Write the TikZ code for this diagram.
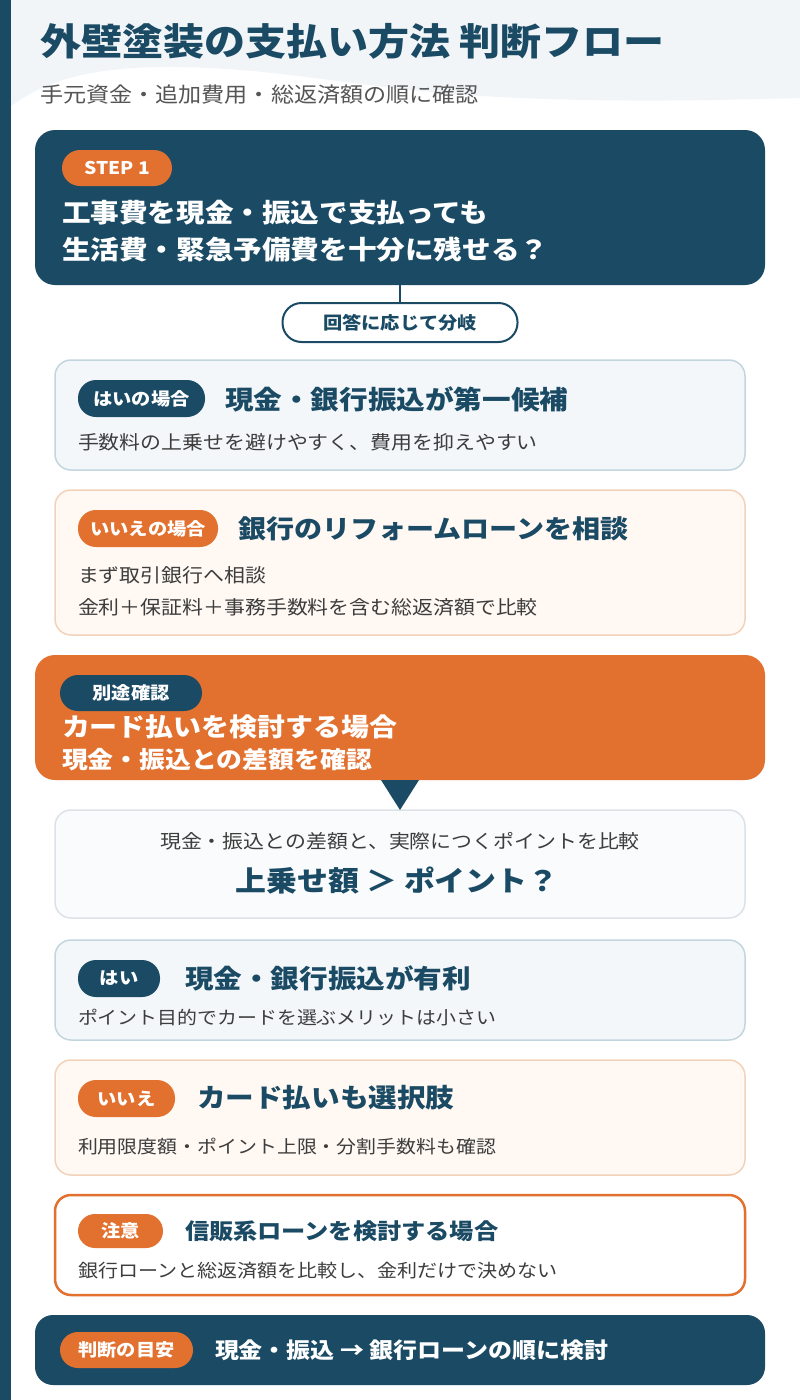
\documentclass[tikz,border=0pt]{standalone}
\usepackage{fontspec}
\setmainfont[FakeStretch=1.1]{Noto Sans CJK JP}
\newcommand\myfs[1]{\fontsize{#1}{#1}\selectfont}
\definecolor{navy}{HTML}{1A4A64}
\definecolor{orng}{HTML}{E2712F}
\definecolor{lbfill}{HTML}{F3F7FA}
\definecolor{lbline}{HTML}{C3D6E0}
\definecolor{lofill}{HTML}{FFF8F3}
\definecolor{loline}{HTML}{F3D2BC}
\definecolor{qfill}{HTML}{FAFBFC}
\definecolor{qline}{HTML}{DCE2E7}
\definecolor{bodygray}{HTML}{3D3D3D}
\definecolor{subgray}{HTML}{555555}
\definecolor{bgtop}{HTML}{F1F5F8}
\begin{document}
\begin{tikzpicture}[x=1pt,y=-1pt,
  every node/.style={inner sep=0pt, outer sep=0pt},
  bigbox/.style={rounded corners=20pt, minimum width=730pt},
  card/.style={rounded corners=16pt, minimum width=690pt, line width=1.5pt},
  cardblue/.style={card, fill=lbfill, draw=lbline},
  cardorange/.style={card, fill=lofill, draw=loline},
  pill/.style={rounded corners=18pt, minimum height=37pt, text=white, font=\myfs{17.5}\bfseries},
  heading/.style={anchor=west, text=navy, font=\myfs{26}\bfseries},
  body/.style={anchor=west, text=bodygray, font=\myfs{19}},
]
\useasboundingbox (0,0) rectangle (800,1400);
\fill[white] (0,0) rectangle (800,1400);
\fill[bgtop] (0,0) -- (800,0) -- (800,98) .. controls (720,100) and (620,103) .. (500,97) .. controls (360,90) and (280,66) .. (160,67) .. controls (90,68) and (40,80) .. (0,115) -- cycle;
\fill[navy] (0,0) rectangle (11,1400);

% title
\node[anchor=west, text=navy, font=\myfs{37.3}\bfseries] (title) at (40,41) {外壁塗装の支払い方法 判断フロー};
\node[anchor=west, text=subgray, font=\myfs{21}] (subtitle) at (40,95) {手元資金・追加費用・総返済額の順に確認};

% step 1
\node[bigbox, fill=navy, minimum height=155pt] (step1) at (400,207.5) {};
\node[pill, fill=orng, minimum width=110pt, minimum height=36pt] (steptag) at (117,168) {STEP 1};
\node[anchor=west, text=white, font=\myfs{26}\bfseries] (s1a) at (62,213) {工事費を現金・振込で支払っても};
\node[anchor=west, text=white, font=\myfs{26}\bfseries] (s1b) at (62,250) {生活費・緊急予備費を十分に残せる？};

\node[rounded corners=19pt, minimum width=235pt, minimum height=39pt, fill=white, draw=navy, line width=2pt, text=navy, font=\myfs{17.5}\bfseries] (branch) at (400,322.5) {回答に応じて分岐};
\draw[navy, line width=2pt] (step1.south) -- (branch.north);

% yes case
\node[cardblue, minimum height=110pt] (yes1) at (400,415) {};
\node[pill, fill=navy, minimum width=127pt] (yes1tag) at (141.5,398.5) {はいの場合};
\node[heading] (yes1h) at (225,399) {現金・銀行振込が第一候補};
\node[body] (yes1b) at (78,442) {手数料の上乗せを避けやすく、費用を抑えやすい};

% no case
\node[cardorange, minimum height=145pt] (no1) at (400,562.5) {};
\node[pill, fill=orng, minimum width=140pt] (no1tag) at (148,528.5) {いいえの場合};
\node[heading, font=\myfs{25.5}\bfseries] (no1h) at (238,529) {銀行のリフォームローンを相談};
\node[body] (no1b) at (78,575) {まず取引銀行へ相談};
\node[body] (no1c) at (78,607) {金利＋保証料＋事務手数料を含む総返済額で比較};

% card check
\node[bigbox, fill=orng, minimum height=125pt] (card) at (400,717.5) {};
\node[pill, fill=navy, minimum width=142pt, minimum height=36pt] (cardtag) at (131,693) {別途確認};
\node[anchor=west, text=white, font=\myfs{25.4}\bfseries] (carda) at (62,727) {カード払いを検討する場合};
\node[anchor=west, text=white, font=\myfs{23.5}\bfseries] (cardb) at (62,760) {現金・振込との差額を確認};

% question
\node[card, fill=qfill, draw=qline, minimum height=108pt] (q) at (400,864) {};
\fill[navy] (card.south) ++(-19,0) -- ++(38,0) -- (q.north) -- cycle;
\node[text=bodygray, font=\myfs{19}] (qa) at (400,841) {現金・振込との差額と、実際につくポイントを比較};
\node[text=navy, font=\myfs{28.1}\bfseries] (qb) at (397,881) {上乗せ額 ＞ ポイント？};

% yes 2
\node[cardblue, minimum height=100pt] (yes2) at (400,990) {};
\node[pill, fill=navy, minimum width=82pt] (yes2tag) at (119,978.5) {はい};
\node[heading] (yes2h) at (185,978) {現金・銀行振込が有利};
\node[body, font=\myfs{18.1}] (yes2b) at (78,1018) {ポイント目的でカードを選ぶメリットは小さい};

% no 2
\node[cardorange, minimum height=115pt] (no2) at (400,1117.5) {};
\node[pill, fill=orng, minimum width=97pt] (no2tag) at (126.5,1098.5) {いいえ};
\node[heading] (no2h) at (197,1098) {カード払いも選択肢};
\node[body, font=\myfs{18.1}] (no2b) at (78,1147) {利用限度額・ポイント上限・分割手数料も確認};

% caution
\node[card, fill=white, draw=orng, line width=2.5pt, minimum height=100pt] (warn) at (400,1245) {};
\node[pill, fill=orng, minimum width=85pt, minimum height=34pt, rounded corners=17pt] (warntag) at (120.5,1231) {注意};
\node[heading, font=\myfs{22}\bfseries] (warnh) at (185,1231) {信販系ローンを検討する場合};
\node[body, font=\myfs{18.2}] (warnb) at (78,1271) {銀行ローンと総返済額を比較し、金利だけで決めない};

% bottom
\node[bigbox, rounded corners=18pt, fill=navy, minimum height=70pt] (goal) at (400,1350) {};
\node[pill, fill=orng, minimum width=133pt, minimum height=36pt] (goaltag) at (126.5,1350) {判断の目安};
\node[anchor=west, text=white, font=\myfs{21.8}\bfseries] (goalt) at (215,1350) {現金・振込 → 銀行ローンの順に検討};
\end{tikzpicture}
\end{document}
